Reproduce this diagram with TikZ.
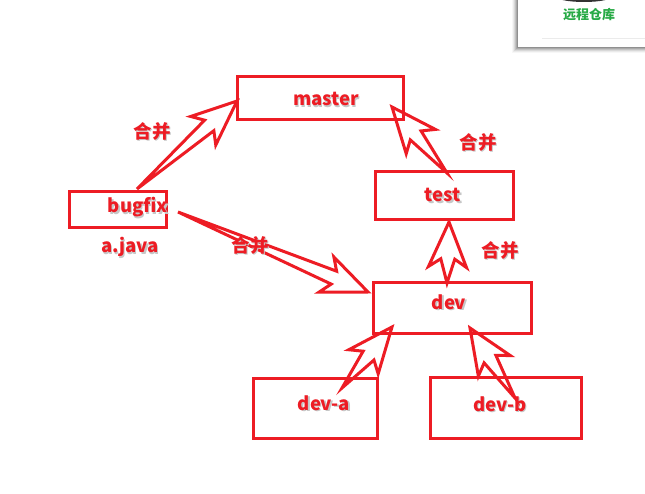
\documentclass[tikz,border=0pt]{standalone}
\usepackage{fontspec}
\setmainfont{Noto Sans CJK SC}
\usetikzlibrary{calc}
\definecolor{pred}{RGB}{237,28,36}
\definecolor{pgreen}{RGB}{40,170,70}
\newcommand\shtext[1]{\makebox[0pt][l]{\hspace{1.3pt}\raisebox{-1.3pt}{\textcolor{black!22}{#1}}}#1}
\newcommand\blockarr[2]{%
  \draw[arr] (#1) -- ($(#2)!37pt!(#1)!7pt!90:(#2)$) -- ($(#2)!45pt!(#1)!19pt!90:(#2)$)
    -- (#2) -- ($(#2)!45pt!(#1)!19pt!-90:(#2)$) -- ($(#2)!37pt!(#1)!7pt!-90:(#2)$) -- cycle;}
\begin{document}
\begin{tikzpicture}[x=1pt,y=-1pt,
  box/.style={draw=pred,line width=3pt,rectangle,inner sep=0pt},
  lbl/.style={text=pred,font=\fontsize{18.5}{20}\selectfont\bfseries,inner sep=0pt},
  arr/.style={draw=pred,line width=3pt,line join=miter,miter limit=10}]
\useasboundingbox (0,0) rectangle (645,494);
\fill[white] (0,0) rectangle (645,494);
% remote repository card
\begin{scope}
\clip (0,0) rectangle (645,494);
\foreach \i/\o in {6/4,5/7,4/10,3/13,2/16,1/20}{
  \fill[black,opacity=0.03*\o/4] (518-\i,-5) rectangle (650,47+\i);}
\fill[white] (518,-5) rectangle (650,47);
\fill[black!80] (584,-4) ellipse [x radius=29, y radius=6];
\draw[black!8,line width=1pt] (542,39) -- (645,39);
\node[text=pgreen,font=\fontsize{13}{14}\selectfont\bfseries,inner sep=0pt] (remote) at (589,15) {远程仓库};
\end{scope}
% boxes
\node[box,minimum width=166pt,minimum height=43pt] (master) at (320,98) {};
\node[box,minimum width=97pt,minimum height=36pt] (bugfix) at (117.5,210) {};
\node[box,minimum width=138pt,minimum height=48pt] (test) at (444,196) {};
\node[box,minimum width=158pt,minimum height=50pt] (dev) at (452,308) {};
\node[box,minimum width=124pt,minimum height=60pt] (deva) at (315,408) {};
\node[box,minimum width=151pt,minimum height=61pt] (devb) at (505.5,407.5) {};
% texts
\node[lbl] (mastert) at (326,100) {\shtext{master}};
\node[lbl] (bugfixt) at (138,208) {\shtext{bugfix}};
\node[lbl] (ajava) at (130,248) {\shtext{a.java}};
\node[lbl] (testt) at (443,196) {\shtext{test}};
\node[lbl] (devt) at (449,303) {\shtext{dev}};
\node[lbl] (devat) at (324,404) {\shtext{dev-a}};
\node[lbl] (devbt) at (500,405) {\shtext{dev-b}};
\node[lbl] (m1) at (152,132) {\shtext{合并}};
\node[lbl] (m2) at (478,143) {\shtext{合并}};
\node[lbl] (m3) at (500,251) {\shtext{合并}};
% arrow end points
\coordinate (a1s) at (137,189); \coordinate (a1e) at (237,101);
\coordinate (a2s) at (447,173); \coordinate (a2e) at (392,107);
\coordinate (a3s) at (447,283); \coordinate (a3e) at (449,222);
\coordinate (a4s) at (178,212); \coordinate (a4e) at (368,292);
\coordinate (a5s) at (342,388); \coordinate (a5e) at (392,327);
\coordinate (a6s) at (515,398); \coordinate (a6e) at (470,328);
\blockarr{a1s}{a1e}
\blockarr{a2s}{a2e}
\blockarr{a3s}{a3e}
\blockarr{a4s}{a4e}
\blockarr{a5s}{a5e}
\blockarr{a6s}{a6e}
\node[lbl] (m4) at (250,246) {\shtext{合并}};
\end{tikzpicture}
\end{document}
